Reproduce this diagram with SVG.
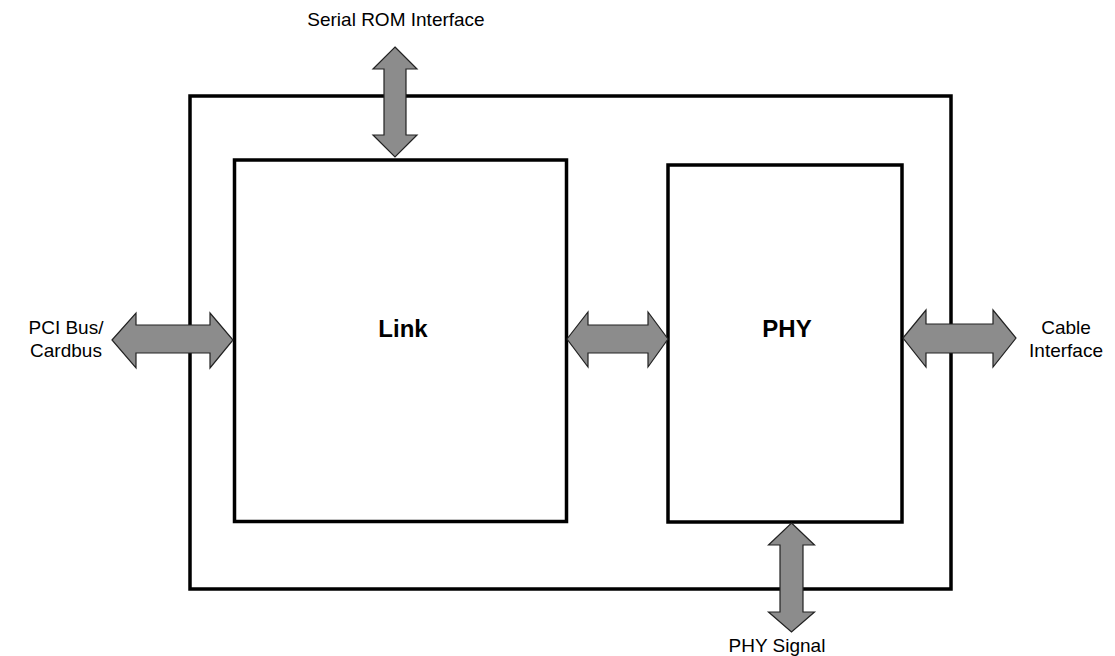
<svg xmlns="http://www.w3.org/2000/svg" width="1115" height="656" viewBox="0 0 1115 656">
<style>
.box{fill:#fff;stroke:#000;stroke-width:3.5}
.arr{fill:#8c8c8c;stroke:#222;stroke-width:1.2;stroke-linejoin:miter}
.lbl{font-family:"Liberation Sans",Arial,sans-serif;font-size:19px;fill:#000;text-anchor:middle}
.blk{font-family:"Liberation Sans",Arial,sans-serif;font-size:24px;font-weight:bold;fill:#000;text-anchor:middle}
</style>
<rect width="1115" height="656" fill="#fff"/>
<g id="chip"><rect class="box" x="190" y="96" width="761" height="493"/></g>
<g id="link"><rect class="box" x="234.5" y="160" width="332" height="361.5"/><text class="blk" x="403" y="337">Link</text></g>
<g id="phy"><rect class="box" x="668" y="165" width="234" height="357"/><text class="blk" x="787" y="337">PHY</text></g>
<g id="connectors">
<polygon class="arr" points="395,47 417,69 406,69 406,135 417,135 395,157 373,135 384,135 384,69 373,69"/>
<polygon class="arr" points="112,340 136,313 136,325 210,325 210,313 233,340 210,368 210,353 136,353 136,368"/>
<polygon class="arr" points="567,339 588,312 588,325 648,325 648,312 668,339 648,367 648,353 588,353 588,367"/>
<polygon class="arr" points="903,338 926,310 926,324 993,324 993,310 1016,338 993,367 993,353 926,353 926,367"/>
<polygon class="arr" points="791.5,523 814.5,545 803,545 803,612 814.5,612 791.5,632 768.5,612 780,612 780,545 768.5,545"/>
</g>
<g id="label-serial"><text class="lbl" x="396" y="26">Serial ROM Interface</text></g>
<g id="label-pci"><text class="lbl" x="66" y="334">PCI Bus/</text><text class="lbl" x="66" y="357">Cardbus</text></g>
<g id="label-cable"><text class="lbl" x="1066" y="334">Cable</text><text class="lbl" x="1066" y="357">Interface</text></g>
<g id="label-physig"><text class="lbl" x="777" y="652">PHY Signal</text></g>
</svg>
